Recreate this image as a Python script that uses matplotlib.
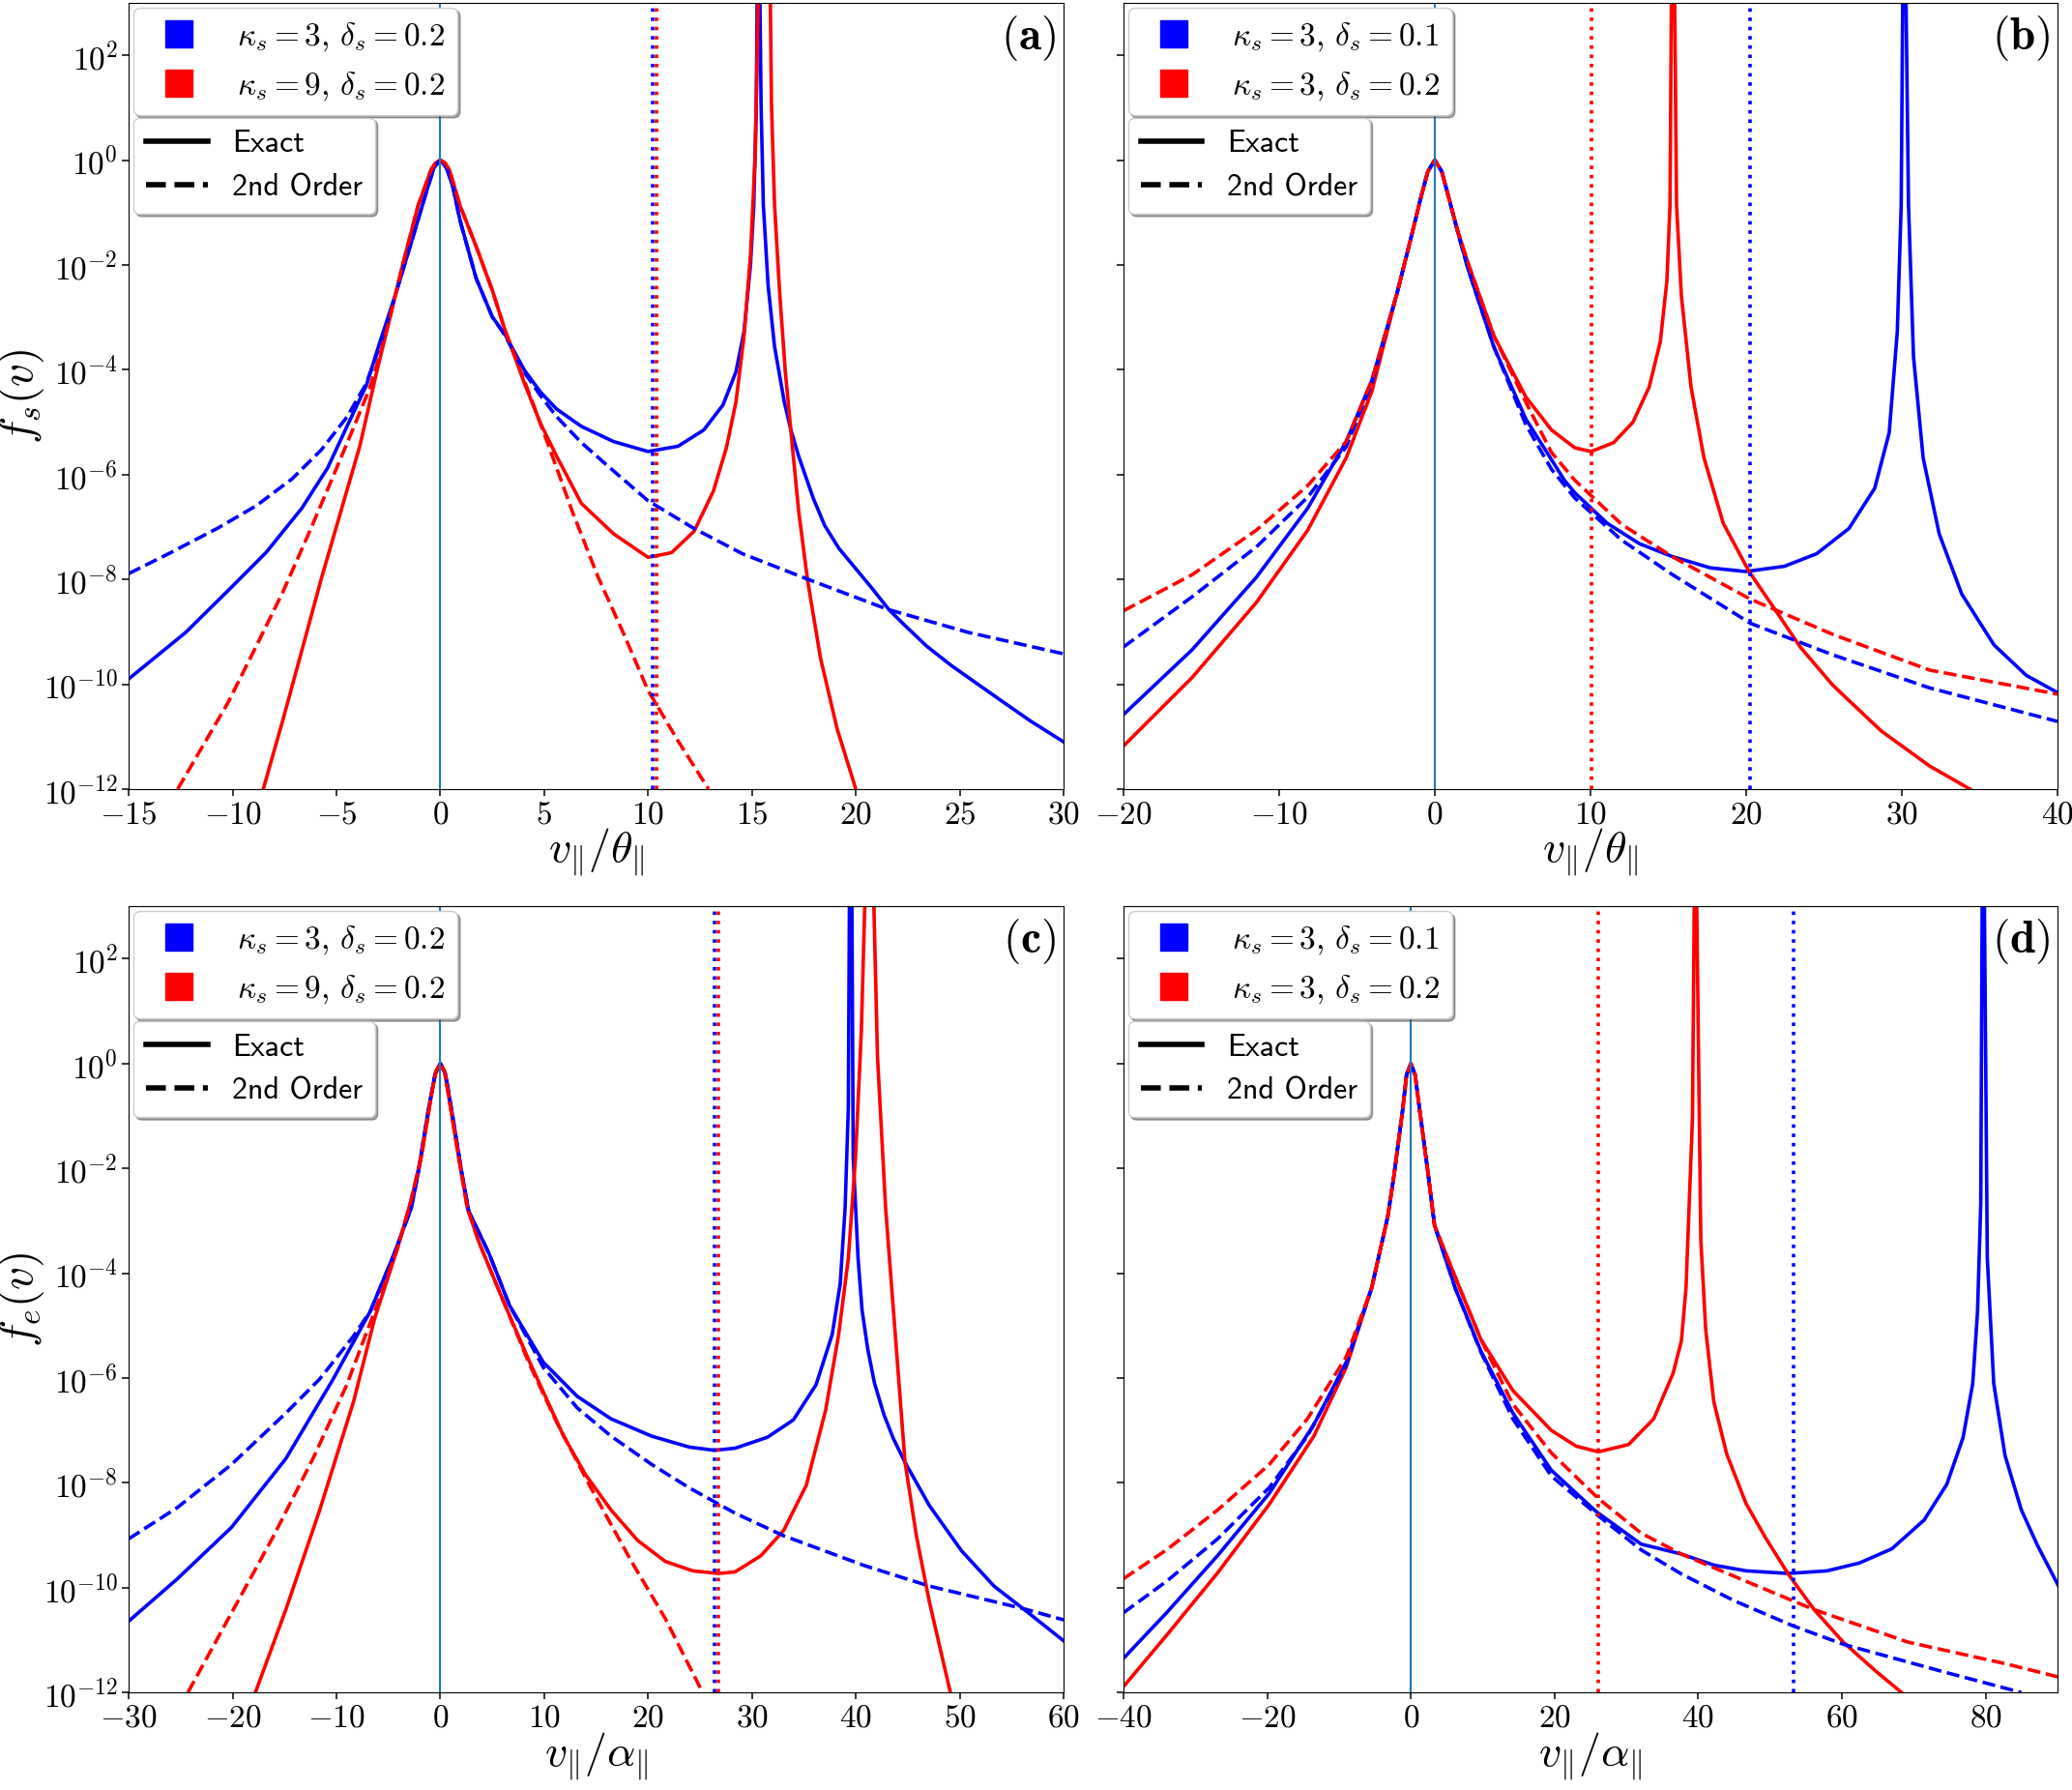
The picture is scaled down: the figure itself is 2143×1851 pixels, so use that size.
import matplotlib
matplotlib.use("Agg")
import numpy as np
import matplotlib.pyplot as plt
from matplotlib.lines import Line2D
from matplotlib.ticker import FixedLocator, NullLocator

plt.rcParams['font.family'] = 'serif'
plt.rcParams['font.serif'] = ['cmr10']
plt.rcParams['mathtext.fontset'] = 'cm'
plt.rcParams['axes.formatter.use_mathtext'] = True

# ---------------- data (x = v_par / scale, y values are log10 f) ----------------
# panel (a): kappa=3 (blue) and kappa=9 (red), delta=0.2
a_blue_exact_x = [-15, -12.25, -10.08, -8.37, -6.66, -5.42, -4.49, -3.56, -2.93, -2.16, -1.38, -0.61, -0.3, 0,
                  0.3, 0.6, 0.95, 1.72, 2.50, 3.12, 4.05, 4.83, 5.6, 6.79, 8.34, 10, 11.44, 12.68, 13.61,
                  14.23, 14.62, 14.93, 15.09, 15.21, 15.27, 15.36, 15.44, 15.55, 15.78, 16.09, 16.56, 16.87,
                  17.25, 17.95, 18.5, 19.19, 20.74, 21.6, 22.29, 23.4, 24.62, 26.95, 28.4, 30]
a_blue_exact_y = [-9.90, -9.01, -8.16, -7.48, -6.64, -5.87, -5.08, -4.30, -3.50, -2.57, -1.55, -0.53, -0.14, 0,
                  -0.15, -0.5, -1.15, -2.25, -2.99, -3.33, -4.01, -4.43, -4.75, -5.08, -5.37, -5.56, -5.46,
                  -5.15, -4.67, -4.04, -3.27, -2.01, -0.86, 1.07, 4.0, 4.0, 1.07, -0.86, -2.40, -3.56, -4.62,
                  -5.14, -5.65, -6.45, -6.97, -7.41, -8.15, -8.58, -8.85, -9.27, -9.65, -10.30, -10.70, -11.10]
a_blue_2nd_x = [-15, -13.03, -10.70, -8.84, -7.13, -5.73, -4.49, -3.56, -2.93, -2.16, -1.38, -0.61, -0.3, 0,
                0.3, 0.6, 0.95, 1.72, 2.50, 3.12, 4.05, 4.83, 5.61, 6.79, 7.93, 10, 12.22, 14.54, 17.64,
                21.52, 25.40, 30]
a_blue_2nd_y = [-7.89, -7.50, -7.02, -6.59, -6.08, -5.53, -4.90, -4.26, -3.57, -2.57, -1.55, -0.53, -0.14, 0,
                -0.15, -0.5, -1.15, -2.25, -2.99, -3.35, -4.05, -4.50, -4.90, -5.39, -5.79, -6.50, -7.03,
                -7.51, -7.99, -8.57, -9.01, -9.42]
a_red_exact_x = [-8.52, -7.59, -6.66, -5.73, -4.80, -3.87, -3.09, -2.47, -1.85, -1.07, -0.45, -0.22, 0,
                 0.22, 0.45, 0.95, 1.72, 2.50, 3.12, 4.05, 4.83, 5.6, 6.79, 8.34, 10, 11.13, 12.22, 13.15,
                 13.77, 14.23, 14.62, 14.93, 15.16, 15.35, 15.86, 15.94, 16.09, 16.33, 16.6, 16.87, 17.25,
                 17.68, 18.3, 19.1, 20.0]
a_red_exact_y = [-12, -10.70, -9.35, -7.99, -6.72, -5.45, -4.09, -3.08, -2.06, -0.87, -0.19, -0.05, 0,
                 -0.05, -0.2, -0.87, -1.64, -2.48, -3.25, -4.26, -5.03, -5.65, -6.55, -7.13, -7.58, -7.49,
                 -7.08, -6.31, -5.49, -4.62, -3.36, -1.82, 0.11, 4.0, 4.0, 1.07, -0.86, -2.50, -4.00, -5.15,
                 -6.70, -8.02, -9.50, -10.85, -12]
a_red_2nd_x = [-12.64, -11.48, -10.23, -8.84, -7.59, -6.35, -5.26, -4.18, -3.40, -2.93, -2.47, -1.85, -1.07,
               -0.45, -0.22, 0, 0.22, 0.45, 0.95, 1.72, 2.50, 3.12, 4.18, 5.26, 6.35, 7.59, 8.84, 10.0,
               11.44, 12.91]
a_red_2nd_y = [-12, -11.21, -10.36, -9.26, -8.25, -7.14, -6.13, -5.11, -4.35, -3.75, -3.08, -2.06, -0.87,
               -0.19, -0.05, 0, -0.05, -0.2, -0.87, -1.64, -2.48, -3.25, -4.35, -5.50, -6.70, -7.95, -9.05,
               -10.12, -11.08, -12]
a_blue_vline = 10.2
a_red_vline = 10.4

# panel (b): kappa=3, delta=0.1 (blue) and delta=0.2 (red)
b_blue_exact_x = [-20, -15.58, -11.46, -8.16, -5.69, -4.04, -2.39, -1.5, -0.9, -0.45, 0, 0.45, 0.9, 1.5,
                  2.14, 3.79, 5.85, 8.33, 9.0, 11.08, 13.15, 15.22, 17.70, 19.98, 22.46, 24.53, 26.60,
                  28.26, 29.19, 29.71, 29.96, 30.08, 30.23, 30.43, 30.75, 31.37, 32.40, 33.85, 35.92,
                  37.99, 40]
b_blue_exact_y = [-10.58, -9.34, -7.96, -6.64, -5.37, -4.20, -2.50, -1.45, -0.72, -0.22, 0, -0.22, -0.72,
                  -1.40, -2.08, -3.56, -4.94, -6.11, -6.35, -6.93, -7.32, -7.56, -7.78, -7.85, -7.75, -7.51,
                  -7.03, -6.26, -5.20, -3.27, -0.86, 4.0, 4.0, -0.86, -3.75, -5.68, -7.13, -8.28, -9.25,
                  -9.83, -10.16]
b_blue_2nd_x = [-20, -15.58, -11.46, -8.16, -5.69, -4.04, -2.39, -1.5, -0.9, -0.45, 0, 0.45, 0.9, 1.5,
                2.14, 3.79, 5.85, 7.50, 9.0, 12.0, 15.22, 20.29, 25.57, 31.78, 40]
b_blue_2nd_y = [-9.29, -8.33, -7.38, -6.43, -5.47, -4.25, -2.50, -1.45, -0.72, -0.22, 0, -0.22, -0.72,
                -1.40, -2.08, -3.56, -5.05, -5.90, -6.45, -7.25, -7.90, -8.84, -9.44, -10.07, -10.71]
b_red_exact_x = [-20, -15.58, -11.46, -8.16, -5.69, -4.04, -2.39, -1.5, -0.9, -0.45, 0, 0.45, 0.9, 1.5,
                 2.14, 3.79, 5.85, 7.50, 9.0, 10.04, 11.49, 12.73, 13.77, 14.49, 14.91, 15.11, 15.22,
                 15.38, 15.53, 15.84, 16.46, 17.29, 18.53, 20.19, 21.84, 23.50, 25.57, 28.67, 31.78, 34.37]
b_red_exact_y = [-11.18, -9.87, -8.44, -7.06, -5.68, -4.41, -2.50, -1.45, -0.72, -0.22, 0, -0.22, -0.72,
                 -1.38, -1.97, -3.35, -4.52, -5.15, -5.49, -5.56, -5.39, -5.00, -4.33, -3.46, -2.30, -0.86,
                 4.0, 4.0, -0.86, -2.59, -4.33, -5.68, -6.93, -7.85, -8.57, -9.30, -10.02, -10.89, -11.56, -12]
b_red_2nd_x = [-20, -15.58, -11.46, -8.16, -5.69, -4.04, -2.39, -1.5, -0.9, -0.45, 0, 0.45, 0.9, 1.5,
               2.14, 3.79, 5.85, 7.50, 9.0, 12.0, 15.22, 20.29, 25.57, 31.78, 40]
b_red_2nd_y = [-8.60, -7.91, -7.06, -6.21, -5.37, -4.20, -2.50, -1.45, -0.72, -0.22, 0, -0.22, -0.72,
               -1.38, -1.97, -3.35, -4.62, -5.58, -6.11, -6.95, -7.56, -8.38, -9.05, -9.73, -10.19]
b_blue_vline = 20.25
b_red_vline = 10.08

# panel (c): kappa=3 (blue) and kappa=9 (red), delta=0.2
c_blue_exact_x = [-30, -25.3, -20.1, -14.87, -10.31, -6.72, -4.44, -2.80, -2.15, -1.17, -0.5, 0, 0.5, 1.11,
                  2.09, 2.74, 4.70, 6.65, 9.92, 13.18, 16.44, 20.35, 24.0, 26.4, 28.38, 31.5, 33.99, 36.17,
                  37.73, 38.5, 38.97, 39.28, 39.41, 39.6, 39.75, 40.22, 40.6, 41.15, 41.8, 42.71, 43.6, 44.74,
                  47.07, 50.19, 53.30, 56.42, 60.1]
c_blue_exact_y = [-10.64, -9.83, -8.85, -7.54, -6.02, -4.72, -3.63, -2.76, -2.11, -0.91, -0.2, 0, -0.2, -0.91,
                  -2.11, -2.82, -3.63, -4.61, -5.70, -6.35, -6.78, -7.11, -7.32, -7.38, -7.34, -7.13, -6.80,
                  -6.13, -5.17, -4.20, -2.76, -0.84, 4.0, 4.0, -1.80, -3.72, -4.70, -5.45, -6.10, -6.70,
                  -7.15, -7.61, -8.43, -9.30, -9.97, -10.45, -11.03]
c_blue_2nd_x = [-30, -25.3, -20.1, -14.87, -11.61, -8.35, -6.72, -4.44, -2.80, -2.15, -1.17, -0.5, 0, 0.5,
                1.11, 2.09, 2.74, 4.70, 6.65, 9.92, 13.18, 16.44, 20.35, 24.0, 28.38, 33.05, 40.84, 47.07,
                56.1, 60.1]
c_blue_2nd_y = [-9.07, -8.47, -7.65, -6.67, -6.02, -5.20, -4.72, -3.63, -2.76, -2.11, -0.91, -0.2, 0, -0.2,
                -0.91, -2.11, -2.82, -3.63, -4.61, -5.80, -6.57, -7.11, -7.65, -8.10, -8.58, -9.01, -9.58,
                -9.97, -10.40, -10.62]
c_red_exact_x = [-17.8, -14.87, -11.61, -8.35, -6.3, -4.11, -2.80, -1.83, -0.85, -0.4, 0, 0.4, 0.78, 1.76,
                 2.61, 3.72, 6.0, 8.61, 11.87, 14.0, 16.44, 19.0, 21.66, 24.3, 26.8, 28.38, 30.87, 33.05,
                 35.23, 37.1, 38.35, 39.28, 39.97, 40.53, 41.0, 41.62, 42.09, 42.87, 43.8, 44.74, 45.83,
                 47.07, 49.1]
c_red_exact_y = [-12, -10.42, -8.52, -6.45, -4.85, -3.52, -2.60, -1.78, -0.59, -0.14, 0, -0.14, -0.59, -1.78,
                 -2.76, -3.41, -4.50, -5.70, -7.11, -7.85, -8.52, -9.10, -9.50, -9.68, -9.73, -9.70, -9.39,
                 -8.91, -8.05, -6.61, -5.17, -3.72, -1.80, 0.60, 4.0, 4.0, 0.12, -2.76, -5.17, -7.61, -9.01,
                 -10.26, -12]
c_red_2nd_x = [-24.3, -20.7, -16.2, -12.26, -9.0, -7.04, -6.07, -4.11, -2.80, -1.83, -0.85, -0.4, 0, 0.4,
               0.78, 1.76, 2.61, 3.72, 6.0, 8.61, 11.22, 14.48, 18.4, 21.66, 25.25]
c_red_2nd_y = [-12, -10.70, -9.07, -7.54, -6.13, -5.10, -4.60, -3.52, -2.60, -1.78, -0.59, -0.14, 0, -0.14,
               -0.59, -1.78, -2.76, -3.41, -4.50, -5.75, -6.85, -8.09, -9.50, -10.59, -12]
c_blue_vline = 26.4
c_red_vline = 26.8

# panel (d): kappa=3, delta=0.1 (blue) and delta=0.2 (red)
d_blue_exact_x = [-40, -34, -26.9, -19.7, -13.5, -9.0, -5.45, -3.21, -2.32, -1.16, -0.6, 0, 0.6, 1.25, 2.41,
                  3.3, 6.16, 9.73, 14.2, 19.55, 25.8, 32.05, 37.66, 42.16, 46.67, 52.52, 57.93, 62.43, 66.94,
                  71.44, 74.59, 76.85, 78.20, 78.87, 79.32, 79.55, 79.77, 80.23, 81.13, 82.70, 84.95, 87.2,
                  90.3]
d_blue_exact_y = [-11.35, -10.48, -9.39, -8.20, -6.89, -5.70, -4.28, -2.92, -2.11, -0.91, -0.22, 0, -0.22,
                  -0.91, -2.11, -3.09, -4.28, -5.48, -6.67, -7.76, -8.55, -9.17, -9.36, -9.57, -9.68, -9.73,
                  -9.68, -9.53, -9.26, -8.71, -8.03, -7.14, -6.11, -4.74, -2.68, 4.0, 4.0, -3.71, -6.11,
                  -7.48, -8.51, -9.19, -10.01]
d_blue_2nd_x = [-40, -34, -26.9, -19.7, -14.4, -9.0, -5.45, -3.21, -2.32, -1.16, -0.6, 0, 0.6, 1.25, 2.41,
                3.3, 6.16, 9.73, 14.2, 19.55, 26.1, 32.05, 37.66, 45.0, 53.2, 60.18, 73.7, 84.95]
d_blue_2nd_y = [-10.48, -9.88, -9.07, -8.09, -7.11, -5.75, -4.28, -2.92, -2.11, -0.91, -0.22, 0, -0.22,
                -0.91, -2.11, -3.09, -4.28, -5.50, -6.78, -7.87, -8.63, -9.28, -9.74, -10.25, -10.73,
                -11.08, -11.59, -12]
d_red_exact_x = [-40, -34, -26.9, -19.7, -13.5, -9.0, -5.45, -3.21, -2.32, -1.16, -0.6, 0, 0.6, 1.25, 2.41,
                 3.3, 6.16, 9.73, 14.2, 19.55, 23.0, 26.1, 30.3, 33.8, 36.5, 37.66, 38.3, 39.2, 39.5, 39.7,
                 40.36, 41.04, 42.16, 43.96, 46.67, 49.37, 52.52, 56.13, 60.18, 64.68, 68.29]
d_red_exact_y = [-11.89, -10.91, -9.72, -8.41, -7.11, -5.80, -4.28, -2.92, -2.11, -0.91, -0.22, 0, -0.22,
                 -0.91, -2.11, -3.09, -4.07, -5.26, -6.24, -7.00, -7.30, -7.41, -7.27, -6.78, -5.91, -5.29,
                 -4.28, -1.02, 4.0, 4.0, -3.37, -5.08, -6.45, -7.45, -8.40, -9.05, -9.74, -10.42, -11.04,
                 -11.59, -12]
d_red_2nd_x = [-40, -34, -26.9, -19.7, -14.4, -9.0, -5.45, -3.21, -2.32, -1.16, -0.6, 0, 0.6, 1.25, 2.41,
               3.3, 6.16, 9.73, 14.2, 19.55, 26.1, 32.05, 37.66, 46.67, 56.13, 69.2, 82.7, 90.3]
d_red_2nd_y = [-9.83, -9.28, -8.52, -7.65, -6.78, -5.60, -4.28, -2.92, -2.11, -0.91, -0.22, 0, -0.22, -0.91,
               -2.11, -3.09, -4.07, -5.26, -6.50, -7.43, -8.30, -8.96, -9.36, -9.88, -10.42, -11.04, -11.45,
               -11.71]
d_blue_vline = 53.2
d_red_vline = 26.1

a_labels = [r'$\kappa_s = 3$, $\delta_s = 0.2$', r'$\kappa_s = 9$, $\delta_s = 0.2$']
b_labels = [r'$\kappa_s = 3$, $\delta_s = 0.1$', r'$\kappa_s = 3$, $\delta_s = 0.2$']
y_ticks = [1e-12, 1e-10, 1e-8, 1e-6, 1e-4, 1e-2, 1e0, 1e2]

LW = 2.6


def draw_panel(ax, curves, vlines, labels, xlim, xticks, tag, xlabel, ylabel=None):
    for x, y, color, ls in curves:
        ax.plot(x, 10.0 ** np.asarray(y), color=color, ls=ls, lw=LW)
    for xv, color in vlines:
        ax.axvline(xv, color=color, ls=':', lw=LW)
    ax.axvline(0, color='#1f77b4', lw=1.5)
    ax.set_yscale('log')
    ax.set_ylim(1e-12, 1e3)
    ax.set_xlim(*xlim)
    ax.set_xticks(xticks)
    ax.yaxis.set_major_locator(FixedLocator(y_ticks))
    ax.yaxis.set_minor_locator(NullLocator())
    ax.tick_params(labelsize=24, length=5, width=1.1)
    ax.tick_params(axis='x', pad=4)
    ax.tick_params(axis='y', pad=3)
    ax.set_xlabel(xlabel, fontsize=33)
    ax.xaxis.set_label_coords(0.5, -0.048)
    if ylabel:
        ax.set_ylabel(ylabel, fontsize=34)
        ax.yaxis.set_label_coords(-0.088, 0.5)
    else:
        ax.tick_params(labelleft=False)
    ax.text(0.992, 0.987, tag, transform=ax.transAxes, ha='right', va='top', fontsize=34)

    h1 = [Line2D([], [], color='blue', marker='s', ls='none', markersize=20),
          Line2D([], [], color='red', marker='s', ls='none', markersize=20)]
    leg1 = ax.legend(h1, labels, loc='upper left', borderaxespad=0.15, fontsize=24,
                     shadow=True, framealpha=1, handletextpad=0.8)
    ax.add_artist(leg1)
    h2 = [Line2D([], [], color='k', ls='-', lw=4), Line2D([], [], color='k', ls='--', lw=4)]
    ax.legend(h2, ['Exact', '2nd Order'], loc='upper left', bbox_to_anchor=(0, 0.86),
              borderaxespad=0.15, prop={'family': 'cmss10', 'size': 23},
              shadow=True, framealpha=1, handletextpad=0.8)


fig = plt.figure(figsize=(21.43, 18.51), dpi=100)
ax_a = fig.add_axes([0.0621, 0.5592, 0.4512, 0.4392])
ax_b = fig.add_axes([0.5422, 0.5592, 0.4508, 0.4392])
ax_c = fig.add_axes([0.0621, 0.0545, 0.4512, 0.4392])
ax_d = fig.add_axes([0.5422, 0.0545, 0.4508, 0.4392])

xl_theta = r'$v_{\Vert}/\theta_{\Vert}$'
xl_alpha = r'$v_{\Vert}/\alpha_{\Vert}$'

draw_panel(ax_a,
           [(a_blue_exact_x, a_blue_exact_y, 'blue', '-'), (a_red_exact_x, a_red_exact_y, 'red', '-'),
            (a_blue_2nd_x, a_blue_2nd_y, 'blue', '--'), (a_red_2nd_x, a_red_2nd_y, 'red', '--')],
           [(a_blue_vline, 'blue'), (a_red_vline, 'red')], a_labels,
           (-15, 30), [-15, -10, -5, 0, 5, 10, 15, 20, 25, 30], r'$(\mathbf{a})$',
           xl_theta, r'$f_s(v)$')
draw_panel(ax_b,
           [(b_blue_exact_x, b_blue_exact_y, 'blue', '-'), (b_red_exact_x, b_red_exact_y, 'red', '-'),
            (b_blue_2nd_x, b_blue_2nd_y, 'blue', '--'), (b_red_2nd_x, b_red_2nd_y, 'red', '--')],
           [(b_blue_vline, 'blue'), (b_red_vline, 'red')], b_labels,
           (-20, 40), [-20, -10, 0, 10, 20, 30, 40], r'$(\mathbf{b})$', xl_theta)
draw_panel(ax_c,
           [(c_blue_exact_x, c_blue_exact_y, 'blue', '-'), (c_red_exact_x, c_red_exact_y, 'red', '-'),
            (c_blue_2nd_x, c_blue_2nd_y, 'blue', '--'), (c_red_2nd_x, c_red_2nd_y, 'red', '--')],
           [(c_blue_vline, 'blue'), (c_red_vline, 'red')], a_labels,
           (-30, 60), [-30, -20, -10, 0, 10, 20, 30, 40, 50, 60], r'$(\mathbf{c})$',
           xl_alpha, r'$f_e(v)$')
draw_panel(ax_d,
           [(d_blue_exact_x, d_blue_exact_y, 'blue', '-'), (d_red_exact_x, d_red_exact_y, 'red', '-'),
            (d_blue_2nd_x, d_blue_2nd_y, 'blue', '--'), (d_red_2nd_x, d_red_2nd_y, 'red', '--')],
           [(d_blue_vline, 'blue'), (d_red_vline, 'red')], b_labels,
           (-40, 90), [-40, -20, 0, 20, 40, 60, 80], r'$(\mathbf{d})$', xl_alpha)

fig.savefig('out.png', dpi=100)
